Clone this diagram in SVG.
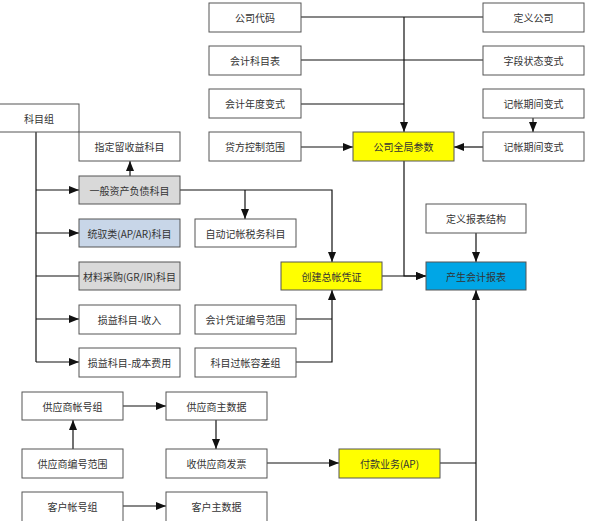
<svg xmlns="http://www.w3.org/2000/svg" width="594" height="521" viewBox="0 0 594 521">
<style>
.b{fill:#fff;stroke:#555;stroke-width:1}
.y{fill:#ffff00}
.g{fill:#d9d9d9}
.lb{fill:#c8d6e8}
.c{fill:#00a6e6}
text{font-family:"Noto Sans CJK SC","Liberation Serif",serif;font-size:10px;fill:#333;text-anchor:middle;dominant-baseline:central}
.l{fill:none;stroke:#111;stroke-width:1.2}
</style>
<defs>
<marker id="a" markerUnits="userSpaceOnUse" markerWidth="10" markerHeight="10" viewBox="0 0 10 8" refX="10" refY="4" orient="auto">
<path d="M0,0 L10,4 L0,8 z" fill="#111"/>
</marker>
</defs>
<g id="connectors">
<path class="l" d="M301,17 H483"/>
<path class="l" d="M301,60 H483"/>
<path class="l" d="M301,104 H404"/>
<path class="l" d="M404,17 V132" marker-end="url(#a)"/>
<path class="l" d="M301,147 H353" marker-end="url(#a)"/>
<path class="l" d="M533,118 V132" marker-end="url(#a)"/>
<path class="l" d="M483,147 H454" marker-end="url(#a)"/>
<path class="l" d="M404,161 V276 H426" marker-end="url(#a)"/>
<path class="l" d="M382,276 H426" marker-end="url(#a)"/>
<path class="l" d="M36,132 V362"/>
<path class="l" d="M130,176 V161" marker-end="url(#a)"/>
<path class="l" d="M36,190 H79" marker-end="url(#a)"/>
<path class="l" d="M36,233 H79" marker-end="url(#a)"/>
<path class="l" d="M36,276 H79"/>
<path class="l" d="M36,319 H79" marker-end="url(#a)"/>
<path class="l" d="M36,362 H79" marker-end="url(#a)"/>
<path class="l" d="M180,190 H332 V262" marker-end="url(#a)"/>
<path class="l" d="M245,190 V219" marker-end="url(#a)"/>
<path class="l" d="M296,319 H332"/>
<path class="l" d="M296,362 H332 V290" marker-end="url(#a)"/>
<path class="l" d="M476,233 V262" marker-end="url(#a)"/>
<path class="l" d="M476,521 V290" marker-end="url(#a)"/>
<path class="l" d="M123,406 H166" marker-end="url(#a)"/>
<path class="l" d="M73,449 V420" marker-end="url(#a)"/>
<path class="l" d="M216,420 V449" marker-end="url(#a)"/>
<path class="l" d="M267,463 H339" marker-end="url(#a)"/>
<path class="l" d="M440,463 H476"/>
<path class="l" d="M123,506 H166" marker-end="url(#a)"/>
</g>
<g id="n1"><rect class="b" x="209" y="3" width="92" height="29"/><text x="255" y="17.5">公司代码</text></g>
<g id="n2"><rect class="b" x="209" y="46" width="92" height="29"/><text x="255" y="60.5">会计科目表</text></g>
<g id="n3"><rect class="b" x="209" y="89" width="92" height="29"/><text x="255" y="103.5">会计年度变式</text></g>
<g id="n4"><rect class="b" x="209" y="132" width="92" height="29"/><text x="255" y="146.5">贷方控制范围</text></g>
<g id="n5"><rect class="b" x="483" y="3" width="101" height="29"/><text x="533.5" y="17.5">定义公司</text></g>
<g id="n6"><rect class="b" x="483" y="46" width="101" height="29"/><text x="533.5" y="60.5">字段状态变式</text></g>
<g id="n7"><rect class="b" x="483" y="89" width="101" height="29"/><text x="533.5" y="103.5">记帐期间变式</text></g>
<g id="n8"><rect class="b" x="483" y="132" width="101" height="29"/><text x="533.5" y="146.5">记帐期间变式</text></g>
<g id="n9"><rect class="b y" x="353" y="132" width="101" height="29"/><text x="403.5" y="146.5">公司全局参数</text></g>
<g id="n10"><rect class="b" x="-1" y="104" width="80" height="28"/><text x="39" y="118">科目组</text></g>
<g id="n11"><rect class="b" x="79" y="132" width="101" height="29"/><text x="129.5" y="146.5">指定留收益科目</text></g>
<g id="n12"><rect class="b g" x="79" y="176" width="101" height="28"/><text x="129.5" y="190">一般资产负债科目</text></g>
<g id="n13"><rect class="b lb" x="79" y="219" width="101" height="28"/><text x="129.5" y="233">统驭类(AP/AR)科目</text></g>
<g id="n14"><rect class="b g" x="79" y="262" width="101" height="28"/><text x="129.5" y="276">材料采购(GR/IR)科目</text></g>
<g id="n15"><rect class="b" x="79" y="305" width="101" height="29"/><text x="129.5" y="319.5">损益科目-收入</text></g>
<g id="n16"><rect class="b" x="79" y="348" width="101" height="29"/><text x="129.5" y="362.5">损益科目-成本费用</text></g>
<g id="n17"><rect class="b" x="195" y="219" width="101" height="28"/><text x="245.5" y="233">自动记帐税务科目</text></g>
<g id="n18"><rect class="b" x="195" y="305" width="101" height="29"/><text x="245.5" y="319.5">会计凭证编号范围</text></g>
<g id="n19"><rect class="b" x="195" y="348" width="101" height="29"/><text x="245.5" y="362.5">科目过帐容差组</text></g>
<g id="n20"><rect class="b y" x="281" y="262" width="101" height="28"/><text x="331.5" y="276">创建总帐凭证</text></g>
<g id="n21"><rect class="b" x="426" y="204" width="100" height="29"/><text x="476" y="218.5">定义报表结构</text></g>
<g id="n22"><rect class="b c" x="426" y="262" width="100" height="28"/><text x="476" y="276">产生会计报表</text></g>
<g id="n23"><rect class="b" x="22" y="392" width="101" height="28"/><text x="72.5" y="406">供应商帐号组</text></g>
<g id="n24"><rect class="b" x="166" y="392" width="101" height="28"/><text x="216.5" y="406">供应商主数据</text></g>
<g id="n25"><rect class="b" x="22" y="449" width="101" height="29"/><text x="72.5" y="463.5">供应商编号范围</text></g>
<g id="n26"><rect class="b" x="166" y="449" width="101" height="29"/><text x="216.5" y="463.5">收供应商发票</text></g>
<g id="n27"><rect class="b y" x="339" y="449" width="101" height="29"/><text x="389.5" y="463.5">付款业务(AP)</text></g>
<g id="n28"><rect class="b" x="22" y="492" width="101" height="30"/><text x="72.5" y="506">客户帐号组</text></g>
<g id="n29"><rect class="b" x="166" y="492" width="101" height="30"/><text x="216.5" y="506">客户主数据</text></g>
</svg>
